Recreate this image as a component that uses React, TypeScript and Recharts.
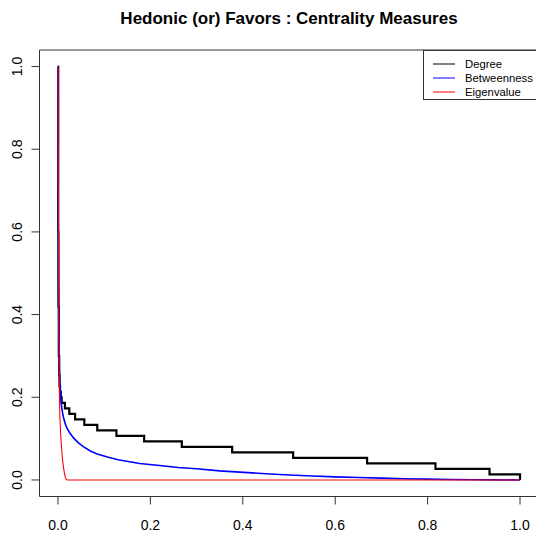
import React from "react";
import { LineChart, Line, XAxis, YAxis, ReferenceArea } from "recharts";

// Normalised rank (x) and normalised centrality (y) for each measure, sorted descending.
const degreeRank = [0, 0.0005, 0.001, 0.0018, 0.0026, 0.0034, 0.0045, 0.006, 0.008, 0.015, 0.0245, 0.037, 0.057, 0.085, 0.1265, 0.1865, 0.268, 0.377, 0.509, 0.669, 0.817, 0.934, 1.0];
const degreeValue = [1.0, 0.6, 0.42, 0.3, 0.2533, 0.2267, 0.2133, 0.2, 0.1867, 0.1733, 0.16, 0.1467, 0.1333, 0.12, 0.1067, 0.0933, 0.08, 0.0667, 0.0533, 0.04, 0.0267, 0.0133, 0];

const betweennessRank = [0, 0.0005, 0.001, 0.002, 0.003, 0.004, 0.006, 0.008, 0.0115, 0.016, 0.02, 0.026, 0.035, 0.045, 0.055, 0.07, 0.085, 0.105, 0.13, 0.155, 0.177, 0.22, 0.26, 0.3, 0.35, 0.394, 0.45, 0.5, 0.55, 0.6, 0.65, 0.7, 0.75, 0.8, 0.85, 0.9, 0.95, 1.0];
const betweennessValue = [1.0, 0.65, 0.48, 0.34, 0.27, 0.235, 0.2, 0.175, 0.153, 0.135, 0.124, 0.113, 0.1, 0.089, 0.0806, 0.07, 0.063, 0.056, 0.049, 0.044, 0.04, 0.035, 0.03, 0.027, 0.022, 0.019, 0.015, 0.012, 0.0095, 0.0075, 0.006, 0.0045, 0.003, 0.002, 0.0012, 0.0006, 0.0002, 0];

const eigenRank = [0, 0.001, 0.002, 0.003, 0.004, 0.006, 0.008, 0.01, 0.012, 0.014, 0.016, 0.018, 0.02, 1.0];
const eigenValue = [1.0, 0.6, 0.35, 0.22, 0.155, 0.105, 0.073, 0.048, 0.03, 0.016, 0.006, 0.0015, 0, 0];

const axisTicks = [0, 0.2, 0.4, 0.6, 0.8, 1.0];

const legendNames = ["Degree", "Betweenness", "Eigenvalue"];
const legendColors = ["#000000", "#0000ff", "#ff0000"];

const toPoints = (xs: number[], ys: number[]) => xs.map((x, i) => ({ x, y: ys[i] }));

const degreeData = toPoints(degreeRank, degreeValue);
const betweennessData = toPoints(betweennessRank, betweennessValue);
const eigenData = toPoints(eigenRank, eigenValue);

const FONT = "'Liberation Sans', Arial, Helvetica, sans-serif";

const YTick = (props: any) => {
  const { y, payload } = props;
  return (
    <text
      x={22}
      y={y}
      transform={`rotate(-90, 22, ${y})`}
      textAnchor="middle"
      fontSize={14}
      fontFamily={FONT}
      fill="#000"
    >
      {Number(payload.value).toFixed(1)}
    </text>
  );
};

const XTick = (props: any) => {
  const { x, payload } = props;
  return (
    <text x={x} y={529.5} textAnchor="middle" fontSize={14} fontFamily={FONT} fill="#000">
      {Number(payload.value).toFixed(1)}
    </text>
  );
};

export default function App() {
  return (
    <div
      style={{
        position: "absolute",
        left: 0,
        top: 0,
        width: 536,
        height: 540,
        overflow: "hidden",
        background: "#fff",
      }}
    >
      <LineChart
        width={540}
        height={540}
        margin={{ top: 50, right: 1.5, bottom: 0, left: 0 }}
      >
        <XAxis
          type="number"
          dataKey="x"
          domain={[-0.04, 1.04]}
          ticks={axisTicks}
          interval={0}
          allowDataOverflow
          height={43.5}
          axisLine={false}
          tickLine={{ stroke: "#333", strokeWidth: 1 }}
          tickSize={8}
          tick={<XTick />}
        />
        <YAxis
          type="number"
          dataKey="y"
          domain={[-0.04, 1.04]}
          ticks={axisTicks}
          interval={0}
          allowDataOverflow
          width={39.5}
          axisLine={false}
          tickLine={{ stroke: "#333", strokeWidth: 1 }}
          tickSize={8}
          tick={<YTick />}
        />
        <ReferenceArea
          x1={-0.04}
          x2={1.04}
          y1={-0.04}
          y2={1.04}
          fill="none"
          fillOpacity={0}
          stroke="#333"
          strokeWidth={1}
          ifOverflow="visible"
        />
        <Line
          data={degreeData}
          dataKey="y"
          type="stepAfter"
          stroke={legendColors[0]}
          strokeWidth={2.2}
          dot={false}
          isAnimationActive={false}
        />
        <Line
          data={betweennessData}
          dataKey="y"
          type="linear"
          stroke={legendColors[1]}
          strokeWidth={1.6}
          dot={false}
          isAnimationActive={false}
        />
        <Line
          data={eigenData}
          dataKey="y"
          type="linear"
          stroke={legendColors[2]}
          strokeWidth={1.1}
          dot={false}
          isAnimationActive={false}
        />
      </LineChart>
      <svg
        width={536}
        height={540}
        style={{ position: "absolute", left: 0, top: 0, pointerEvents: "none" }}
      >
        <text
          x={289}
          y={24}
          textAnchor="middle"
          fontSize={17}
          fontWeight="bold"
          fontFamily={FONT}
          fill="#000"
        >
          Hedonic (or) Favors : Centrality Measures
        </text>
        <rect x={423.5} y={50.5} width={120} height={49} fill="#fff" stroke="#333" strokeWidth={1} />
        {legendNames.map((name, i) => (
          <g key={name}>
            <line x1={433} x2={455} y1={64 + i * 14} y2={64 + i * 14} stroke={legendColors[i]} strokeWidth={1} />
            <text x={465} y={68 + i * 14} fontSize={11.3} fontFamily={FONT} fill="#000">
              {name}
            </text>
          </g>
        ))}
      </svg>
    </div>
  );
}
